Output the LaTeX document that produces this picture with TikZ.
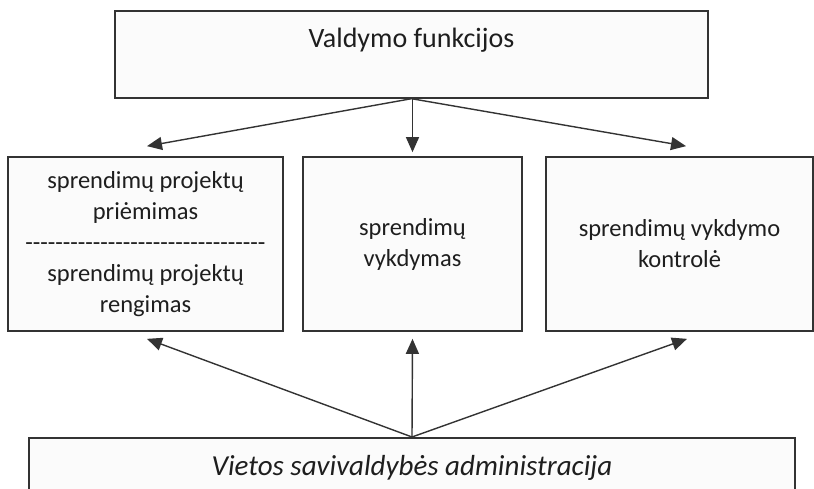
\documentclass[tikz,border=0pt]{standalone}
\usepackage{fontspec}
\setmainfont{Carlito}
\usetikzlibrary{arrows.meta}
\definecolor{edge}{HTML}{333333}
\definecolor{boxfill}{HTML}{FBFBFB}
\definecolor{ink}{HTML}{1E1E1E}
\newcommand\dashrow[1]{\foreach \i in {1,...,#1}{-}}

\begin{document}
\begin{tikzpicture}[x=1pt,y=-1pt,
    box/.style={draw=edge,fill=boxfill,line width=1.7pt,inner sep=0pt,
      align=center,text=ink,font=\fontsize{24.5}{31}\selectfont},
    arr/.style={draw=edge,line width=1.4pt,-{Triangle[length=15pt,width=13pt]}}]
  \useasboundingbox (0,0) rectangle (814,489);
  \clip (0,0) rectangle (814,489);
  \node[box,anchor=north,minimum width=593pt,text height=37pt,text depth=50pt,
    font=\fontsize{28}{34}\selectfont] (funk) at (411.5,10) {Valdymo funkcijos};
  \node[box,minimum width=275pt,minimum height=174pt] (pr) at (145.5,244)
    {sprendimų projektų\\priėmimas\\\dashrow{32}\\sprendimų projektų\\rengimas};
  \node[box,minimum width=219pt,minimum height=174pt] (vk) at (412.5,244)
    {sprendimų\\vykdymas};
  \node[box,minimum width=267pt,minimum height=174pt] (kt) at (679.5,244)
    {sprendimų vykdymo\\kontrolė};
  \node[box,anchor=north,minimum width=766pt,text height=38pt,text depth=60pt,
    font=\itshape\fontsize{29}{34}\selectfont] (adm) at (412,437)
    {Vietos savivaldybės administracija};
  \draw[arr] (funk.south) -- ([xshift=1.5pt,yshift=10pt]pr.north);
  \draw[arr] (funk.south -| vk.north) -- ([yshift=4pt]vk.north);
  \draw[arr] (funk.south) -- ([xshift=6.5pt,yshift=10pt]kt.north);
  \draw[arr] (adm.north) -- ([xshift=1.5pt,yshift=-7pt]pr.south);
  \draw[arr] (adm.north) -- ([yshift=-7pt]vk.south);
  \draw[arr] (adm.north) -- ([xshift=7.5pt,yshift=-7pt]kt.south);
\end{tikzpicture}
\end{document}
